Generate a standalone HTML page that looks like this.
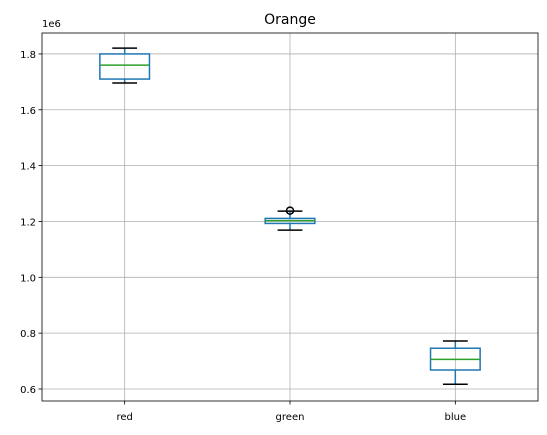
<!DOCTYPE html>
<html><head><meta charset="utf-8"><style>
html,body{margin:0;padding:0;background:#fff;}
svg{display:block;font-family:"DejaVu Sans","Liberation Sans",sans-serif;}
</style></head><body>
<svg id="chart" width="547" height="435">
<text x="290" y="24" font-size="14" text-anchor="middle">Orange</text>
<g id="grid"></g><g id="axes"></g><g id="marks"></g>
<rect x="42" y="33" width="496" height="368" fill="none" stroke="#000" stroke-width="0.8"/>
<text x="42" y="27" font-size="10">1e6</text>
</svg>
<script>
const categories = ["red","green","blue"];
const whiskerLow = [1.696, 1.169, 0.617];
const q1 = [1.710, 1.193, 0.668];
const medians = [1.760, 1.203, 0.706];
const q3 = [1.800, 1.211, 0.746];
const whiskerHigh = [1.821, 1.237, 0.772];
const fliers = [[], [1.239], []];
const yTicks = [0.6, 0.8, 1.0, 1.2, 1.4, 1.6, 1.8];
const yTickLabels = ["0.6","0.8","1.0","1.2","1.4","1.6","1.8"];

const L=42,R=538,T=33,B=401,yMin=0.557,yMax=1.875;
const ns="http://www.w3.org/2000/svg";
const x=i=>L+(i+0.5)/categories.length*(R-L);
const y=v=>B-(v-yMin)/(yMax-yMin)*(B-T);
function mk(p,tag,a){const e=document.createElementNS(ns,tag);for(const k in a)e.setAttribute(k,a[k]);document.getElementById(p).appendChild(e);return e;}
yTicks.forEach((t,i)=>{
  const g=mk("grid","line",{x1:L,x2:R,y1:y(t),y2:y(t),stroke:"#b0b0b0","stroke-width":0.8});
  
  
  mk("axes","line",{x1:L-3.5,x2:L,y1:y(t),y2:y(t),stroke:"#000","stroke-width":0.8});
  const tx=mk("axes","text",{x:L-6,y:y(t)+4,"font-size":10,"text-anchor":"end"});
  tx.textContent=yTickLabels[i];
  
  
});
categories.forEach((c,i)=>{
  const cx=x(i);
  const g=mk("grid","line",{x1:cx,x2:cx,y1:T,y2:B,stroke:"#b0b0b0","stroke-width":0.8});
  
  
  mk("axes","line",{x1:cx,x2:cx,y1:B,y2:B+3.5,stroke:"#000","stroke-width":0.8});
  const tx=mk("axes","text",{x:cx,y:B+19,"font-size":10,"text-anchor":"middle"});
  tx.textContent=c;
  
  
  const bw=0.15*(R-L)/categories.length, cw=bw/2;
  const w1=mk("marks","line",{x1:cx,x2:cx,y1:y(q1[i]),y2:y(whiskerLow[i]),stroke:"#1f77b4","stroke-width":1.5});
  
  
  const w2=mk("marks","line",{x1:cx,x2:cx,y1:y(q3[i]),y2:y(whiskerHigh[i]),stroke:"#1f77b4","stroke-width":1.5});
  
  
  [whiskerLow[i],whiskerHigh[i]].forEach(v=>{
    const cap=mk("marks","line",{x1:cx-cw,x2:cx+cw,y1:y(v),y2:y(v),stroke:"#000","stroke-width":1.5});
    
    
  });
  const bx=mk("marks","rect",{x:cx-bw,y:y(q3[i]),width:2*bw,height:y(q1[i])-y(q3[i]),fill:"none",stroke:"#1f77b4","stroke-width":1.5});
  
  
  const md=mk("marks","line",{x1:cx-bw,x2:cx+bw,y1:y(medians[i]),y2:y(medians[i]),stroke:"#2ca02c","stroke-width":1.5});
  
  
  fliers[i].forEach(v=>{
    const f=mk("marks","circle",{cx:cx,cy:y(v),r:3.5,fill:"none",stroke:"#000","stroke-width":1.5});
    
    
  });
});
</script>
</body></html>
